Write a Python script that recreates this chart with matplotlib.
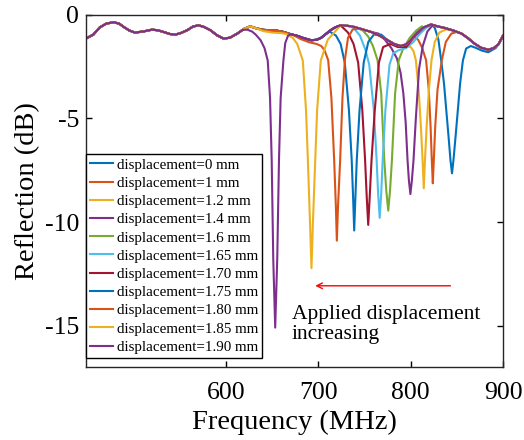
import matplotlib
matplotlib.use('Agg')
import matplotlib.pyplot as plt

plt.rcParams['font.family'] = ['Liberation Serif', 'DejaVu Serif']
plt.rcParams['axes.unicode_minus'] = False

labels = ['displacement=0 mm', 'displacement=1 mm', 'displacement=1.2 mm',
          'displacement=1.4 mm', 'displacement=1.6 mm', 'displacement=1.65 mm',
          'displacement=1.70 mm', 'displacement=1.75 mm', 'displacement=1.80 mm',
          'displacement=1.85 mm', 'displacement=1.90 mm']
colors = ['#0072BD', '#D95319', '#EDB120', '#7E2F8E', '#77AC30', '#4DBEEE',
          '#A2142F', '#0072BD', '#D95319', '#EDB120', '#7E2F8E']

# common background response (MHz, dB)
base_f = [448, 456, 463, 470, 478, 484, 489, 495, 501, 510, 519.6, 526, 532, 539, 545,
          551, 557.6, 564, 570, 576, 583, 590, 597, 604, 612, 619, 626, 633, 640, 648,
          655, 662, 670, 677, 684, 692, 698, 703, 708, 713, 718, 724, 731, 739, 748,
          757, 766, 775, 782, 789, 795, 800, 807, 814, 822, 829, 837, 846, 855, 862,
          869, 876, 884, 890, 895, 900]
base_db = [-1.14, -0.95, -0.6, -0.42, -0.35, -0.42, -0.58, -0.75, -0.85, -0.8, -0.71, -0.74,
           -0.82, -0.92, -0.95, -0.87, -0.74, -0.56, -0.5, -0.58, -0.74, -0.98, -1.14, -1.1,
           -0.9, -0.68, -0.55, -0.65, -0.72, -0.74, -0.76, -0.82, -0.93, -1.01, -1.12, -1.22,
           -1.2, -1.1, -0.92, -0.74, -0.6, -0.5, -0.52, -0.58, -0.7, -0.82, -1.0, -1.22,
           -1.4, -1.5, -1.42, -1.22, -0.85, -0.6, -0.46, -0.55, -0.63, -0.75, -0.9, -1.12,
           -1.38, -1.58, -1.68, -1.6, -1.42, -1.0]

# resonance dip of each curve (MHz, dB)
dip_f = [
    [826, 830, 833, 836, 838.5, 841, 843, 844.7, 846.3, 848.5, 851, 853.5, 856.5, 860, 865, 870, 877, 884, 892],
    [803, 808, 812, 816.6, 819.5, 821.5, 822.8, 823.9, 825, 826.5, 829, 833.7, 838, 844, 850],
    [795, 800, 803, 805.5, 808.5, 811, 812.8, 814.1, 815.4, 817.2, 819.7, 822.5, 826, 831, 838],
    [765, 772, 779, 785, 789, 792, 794.5, 796.5, 798, 799.6, 801.2, 803, 805.5, 809, 813, 818, 824],
    [748, 754, 759, 764, 768, 771.3, 773.5, 775.6, 777.5, 779.6, 783, 787, 792, 799, 806, 812],
    [738, 745, 751, 755, 760, 763, 764.6, 766.3, 768, 769.6, 772.5, 777, 781, 787, 795, 803, 810, 816],
    [725, 732, 738, 743, 747.5, 750.5, 752.3, 753.9, 755.5, 757.5, 761, 765.5, 770, 778, 786, 795, 805, 812],
    [712, 719, 724, 728.5, 733, 736, 737.5, 738.7, 740, 741.5, 744.5, 749, 754, 760, 768],
    [672, 680, 690, 698, 703, 706.5, 710.5, 714, 717, 718.8, 719.9, 721.2, 723.5, 726, 728.6, 732, 737, 745],
    [640, 650, 660, 665, 672, 677, 683, 686.5, 688.5, 690.8, 692.4, 694, 696.5, 698.5, 702.5, 710, 722],
    [612, 618, 622.8, 628, 632, 637.3, 641.5, 645, 647.5, 649.3, 651, 653.1, 655.3, 657.2, 659, 662, 664,
     667, 670, 677],
]
dip_db = [
    [-0.62, -1.2, -2.2, -3.3, -4.6, -5.9, -7.0, -7.65, -7.0, -5.9, -4.6, -3.3, -2.2, -1.62, -1.5, -1.58,
     -1.72, -1.8, -1.6],
    [-1.0, -1.2, -1.55, -2.18, -3.6, -5.4, -7.0, -8.13, -7.0, -5.4, -3.6, -2.18, -1.3, -0.9, -0.82],
    [-1.5, -1.55, -1.75, -2.18, -3.6, -5.4, -7.0, -8.37, -7.0, -5.4, -3.6, -2.18, -1.3, -0.85, -0.7],
    [-0.9, -1.2, -1.6, -2.1, -2.8, -3.8, -5.2, -7.0, -8.0, -8.65, -8.0, -7.0, -5.0, -2.6, -1.5, -0.8, -0.48],
    [-0.75, -1.05, -1.5, -2.18, -3.8, -7.0, -8.5, -9.45, -8.5, -7.0, -3.8, -2.18, -1.6, -1.1, -0.75, -0.55],
    [-0.62, -1.0, -1.7, -2.4, -4.6, -7.0, -8.6, -9.8, -8.6, -7.0, -4.6, -2.4, -1.85, -1.7, -1.6, -1.3, -0.9,
     -0.65],
    [-0.55, -0.85, -1.4, -2.3, -4.6, -7.0, -8.8, -10.14, -8.8, -7.0, -4.6, -2.3, -1.55, -1.4, -1.55, -1.55,
     -1.0, -0.7],
    [-0.8, -1.0, -1.4, -2.3, -4.6, -7.0, -8.8, -10.41, -8.8, -7.0, -4.6, -2.3, -1.3, -0.95, -0.95],
    [-0.95, -1.15, -1.32, -1.4, -1.5, -1.7, -2.18, -4.0, -7.0, -9.2, -10.9, -9.2, -7.0, -4.0, -2.18, -1.1,
     -0.7, -0.65],
    [-0.78, -0.85, -0.88, -0.92, -1.1, -1.4, -2.2, -4.6, -7.0, -10.0, -12.23, -10.0, -7.0, -4.6, -2.2, -1.2,
     -0.6],
    [-0.9, -0.72, -0.71, -0.8, -0.95, -1.22, -1.6, -2.2, -4.0, -7.0, -11.8, -15.1, -11.8, -7.0, -4.0, -2.2,
     -1.35, -1.0, -0.93, -1.0],
]


def curve(i):
    lo, hi = dip_f[i][0], dip_f[i][-1]
    pts = [(f, d) for f, d in zip(base_f, base_db) if f < lo or f > hi]
    pts = sorted(pts + list(zip(dip_f[i], dip_db[i])))
    return [p[0] for p in pts], [p[1] for p in pts]


fig = plt.figure(figsize=(5.24, 4.4), dpi=100)
ax = fig.add_axes([0.164, 0.166, 0.796, 0.800])

for i in range(len(labels)):
    x, y = curve(i)
    ax.plot(x, y, color=colors[i], lw=1.5, label=labels[i])

ax.set_xlim(448, 900)
ax.set_ylim(-17, 0)
ax.set_xticks([600, 700, 800, 900])
ax.set_yticks([-15, -10, -5, 0])
ax.tick_params(direction='in', top=True, right=True, labelsize=18.5, length=4, width=1, pad=5)
ax.tick_params(axis='x', pad=11)
for s in ax.spines.values():
    s.set_linewidth(1)
    s.set_color('#262626')
ax.set_xlabel('Frequency (MHz)', fontsize=20.5, labelpad=4)
ax.set_ylabel('Reflection (dB)', fontsize=20.5, labelpad=3)

leg = ax.legend(loc='upper left', bbox_to_anchor=(0, 0.604), borderaxespad=0, fontsize=10.85,
                handlelength=1.55, handletextpad=0.25, labelspacing=0.31, borderpad=0.25,
                fancybox=False, framealpha=1, edgecolor='black')
leg.get_frame().set_linewidth(1)

ax.annotate('', xy=(693.5, -13.08), xytext=(846, -13.08),
            arrowprops=dict(arrowstyle='->', color='red', lw=1))
ax.text(671, -14.94, 'Applied displacement\nincreasing', fontsize=15.5,
        va='center', ha='left', linespacing=1.1)

fig.savefig('out.png', dpi=100)
